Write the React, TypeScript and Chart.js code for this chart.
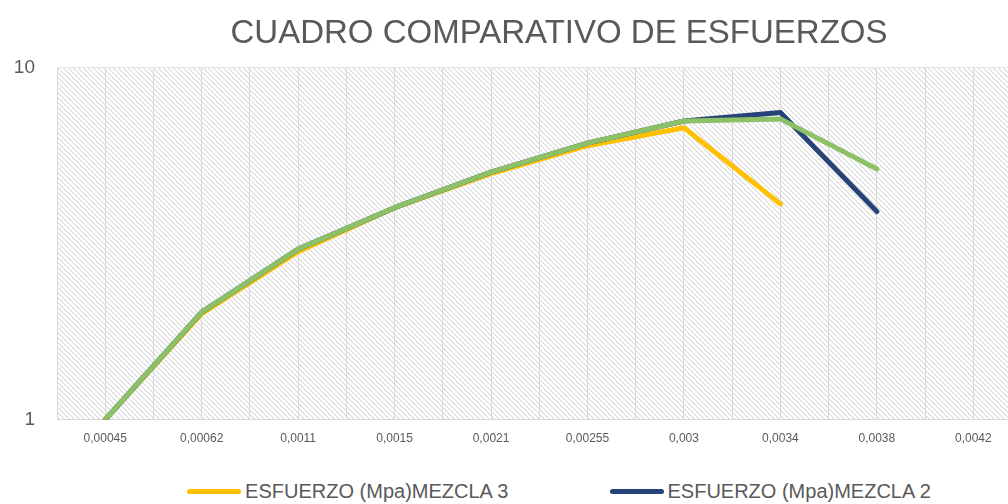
import React, { useEffect, useRef } from "react";
import { Chart, registerables } from "chart.js";

Chart.register(...registerables);

const categories = ["0,00045", "0,00062", "0,0011", "0,0015", "0,0021", "0,00255", "0,003", "0,0034", "0,0038", "0,0042", "0,0046"];
const mezcla3 = [1, 2, 3, 4, 5, 6.0, 6.75, 4.1, null, null, null];
const mezcla2 = [1, 2.02, 3.05, 4.0, 5.05, 6.1, 7.05, 7.45, 3.9, null, null];
const mezcla1 = [1, 2.02, 3.05, 4.0, 5.05, 6.1, 7.05, 7.15, 5.15, null, null];
const seriesNames = ["ESFUERZO (Mpa)MEZCLA 3", "ESFUERZO (Mpa)MEZCLA 2", "ESFUERZO (Mpa)MEZCLA 1"];
const seriesColors = ["#FFC000", "#264478", "#8CC168"];
const yTickLabels = [1, 10];
const titleText = "CUADRO COMPARATIVO DE ESFUERZOS";

const FONT = "'Liberation Sans', Arial, sans-serif";
const TEXT = "#595959";

function toPoints(arr: (number | null)[]) {
  const pts: { x: number; y: number }[] = [];
  arr.forEach((v, i) => {
    if (v !== null) pts.push({ x: i, y: v });
  });
  return pts;
}

const patternPlugin = {
  id: "hatch",
  beforeDraw(chart: any) {
    const { ctx, chartArea } = chart;
    if (!chartArea) return;
    const tile = document.createElement("canvas");
    tile.width = 5;
    tile.height = 5;
    const t = tile.getContext("2d")!;
    t.fillStyle = "#ffffff";
    t.fillRect(0, 0, 5, 5);
    for (let i = 0; i < 5; i++) {
      t.fillStyle = "#d8d8d8";
      t.fillRect(i, i, 1, 1);
      t.fillStyle = "#efefef";
      t.fillRect((i + 1) % 5, i, 1, 1);
    }
    const pat = ctx.createPattern(tile, "repeat");
    ctx.save();
    ctx.fillStyle = pat;
    ctx.fillRect(chartArea.left, chartArea.top, chartArea.right - chartArea.left, chartArea.bottom - chartArea.top);
    ctx.restore();
  },
};

export default function App() {
  const ref = useRef<HTMLCanvasElement | null>(null);
  useEffect(() => {
    if (!ref.current) return;
    const data = [mezcla3, mezcla2, mezcla1];
    const chart = new Chart(ref.current, {
      type: "line",
      data: {
        datasets: data.map((arr, k) => ({
          label: seriesNames[k],
          data: toPoints(arr),
          borderColor: seriesColors[k],
          backgroundColor: seriesColors[k],
          borderWidth: 5,
          pointRadius: 0,
          tension: 0,
          order: 3 - k,
          borderCapStyle: "round" as const,
          borderJoinStyle: "round" as const,
        })),
      },
      options: {
        animation: false,
        responsive: true,
        maintainAspectRatio: false,
        layout: { padding: { left: 0, right: 0, top: 0, bottom: 0 } },
        plugins: {
          legend: { display: false },
          tooltip: { enabled: false },
          title: {
            display: true,
            text: titleText,
            color: TEXT,
            font: { family: FONT, size: 33, weight: "normal" },
            padding: { top: 14, bottom: 14 },
          },
        },
        scales: {
          x: {
            type: "linear",
            min: -0.5,
            max: categories.length - 0.5,
            afterFit: (s: any) => {
              s.paddingLeft = 0;
              s.paddingRight = 0;
            },
            grid: { color: "#d9d9d9", lineWidth: 1, drawTicks: false },
            border: { color: "#d9d9d9" },
            ticks: {
              stepSize: 0.5,
              autoSkip: false,
              maxRotation: 0,
              color: TEXT,
              padding: 12,
              font: { family: FONT, size: 12 },
              callback: (v: any) => (Number.isInteger(v) && v >= 0 && v < categories.length ? categories[v] : ""),
            },
          },
          y: {
            type: "logarithmic",
            min: 1,
            max: 10,
            afterFit: (s: any) => {
              s.width = 57;
            },
            grid: {
              drawTicks: false,
              color: (c: any) => (c.tick && c.tick.value === 10 ? "#e4e4e4" : "rgba(0,0,0,0)"),
            },
            border: { display: false },
            ticks: {
              color: TEXT,
              padding: 22,
              font: { family: FONT, size: 19 },
              autoSkip: false,
              callback: (v: any) => (yTickLabels.includes(v) ? String(v) : ""),
            },
          },
        },
      },
      plugins: [patternPlugin],
    });
    return () => chart.destroy();
  }, []);

  return (
    <div style={{ position: "fixed", left: 0, top: 0, width: 1008, height: 504, overflow: "hidden", background: "#fff" }}>
      <div style={{ position: "absolute", left: 0, top: 0, width: 1118, height: 458 }}>
        <canvas ref={ref} />
      </div>
      <div
        style={{
          position: "absolute",
          left: 0,
          top: 478,
          width: 1118,
          display: "flex",
          flexWrap: "wrap",
          justifyContent: "center",
          columnGap: 101,
          rowGap: 10,
          fontFamily: FONT,
          fontSize: 20,
          color: TEXT,
          lineHeight: "26px",
        }}
      >
        {seriesNames.map((n, k) => (
          <div key={n} style={{ display: "flex", alignItems: "center", whiteSpace: "nowrap" }}>
            <span style={{ display: "inline-block", width: 54, height: 5, borderRadius: 3, background: seriesColors[k], marginRight: 4 }} />
            <span>{n}</span>
          </div>
        ))}
      </div>
    </div>
  );
}
